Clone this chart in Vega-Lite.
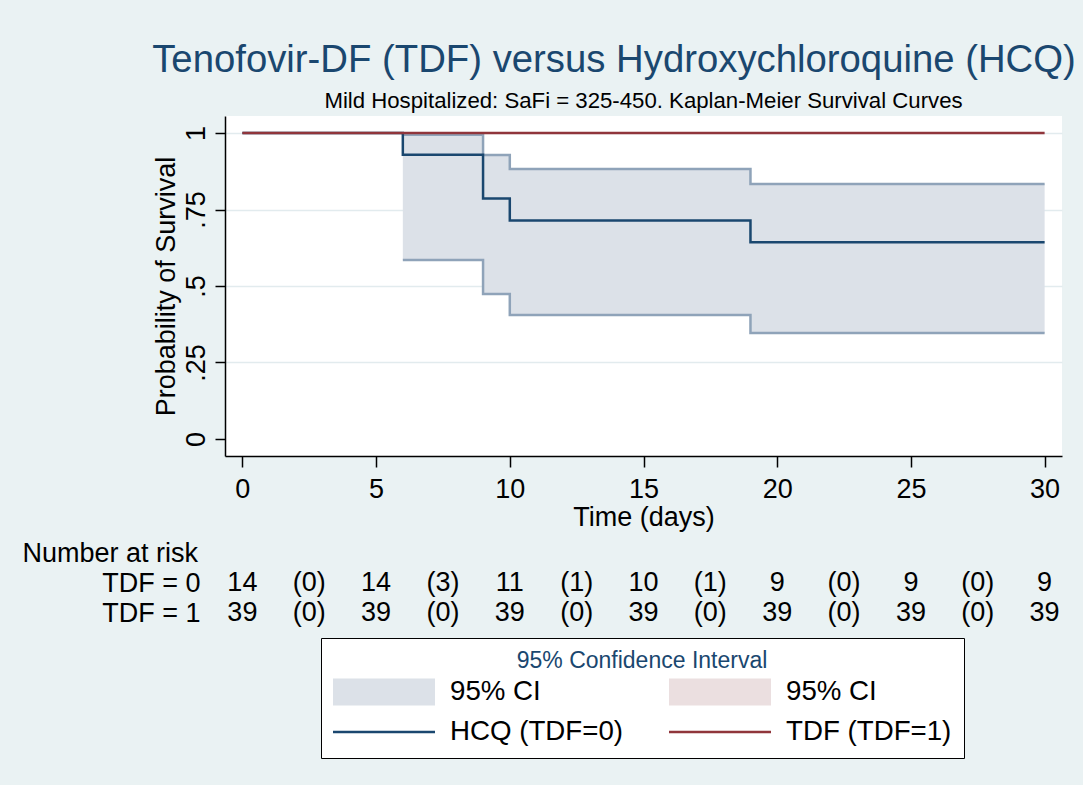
{
  "$schema": "https://vega.github.io/schema/vega-lite/v6.json",
  "background": "#EAF2F3",
  "padding": {"left": 22, "top": 40, "right": 8, "bottom": 26},
  "config": {
    "font": "Liberation Sans",
    "view": {"stroke": null},
    "axis": {"labelFont": "Liberation Sans", "titleFont": "Liberation Sans", "labelColor": "black", "titleColor": "black", "titleFontWeight": "normal", "domainColor": "black", "tickColor": "black"},
    "legend": {
      "titleFontSize": 23, "titleColor": "#1A476F", "titleFont": "Liberation Sans", "titleFontWeight": "normal", "titleAnchor": "middle", "titlePadding": 5, "titleLimit": 800,
      "columns": 2, "columnPadding": 45, "rowPadding": 12, "clipHeight": 28,
      "symbolSize": 10404, "symbolStrokeWidth": 0, "symbolOpacity": 1,
      "labelFontSize": 27.7, "labelFont": "Liberation Sans", "labelColor": "black", "labelOffset": 15, "labelLimit": 800,
      "padding": 12, "strokeColor": "black", "fillColor": "white", "cornerRadius": 0
    }
  },
  "title": {"text": "Tenofovir-DF (TDF) versus Hydroxychloroquine (HCQ)", "fontSize": 38.3, "color": "#1A476F", "font": "Liberation Sans", "fontWeight": "normal", "anchor": "middle", "dx": 72, "offset": 10},
  "bounds": "flush",
  "spacing": 112,
  "datasets": {
    "km": [
      {"series": "hcq", "time": 0, "surv": 1},
      {"series": "hcq", "time": 6, "surv": 0.929},
      {"series": "hcq", "time": 9, "surv": 0.786},
      {"series": "hcq", "time": 10, "surv": 0.714},
      {"series": "hcq", "time": 19, "surv": 0.643},
      {"series": "hcq", "time": 30, "surv": 0.643},
      {"series": "tdf", "time": 0, "surv": 1},
      {"series": "tdf", "time": 30, "surv": 1}
    ],
    "ci": [
      {"series": "ci0", "time": 6, "lo": 0.585, "hi": 0.994},
      {"series": "ci0", "time": 9, "lo": 0.474, "hi": 0.928},
      {"series": "ci0", "time": 10, "lo": 0.405, "hi": 0.882},
      {"series": "ci0", "time": 19, "lo": 0.346, "hi": 0.833},
      {"series": "ci0", "time": 30, "lo": 0.346, "hi": 0.833}
    ],
    "risk": [
      {"group": "TDF = 0", "time": 0, "label": "14"},
      {"group": "TDF = 0", "time": 2.5, "label": "(0)"},
      {"group": "TDF = 0", "time": 5, "label": "14"},
      {"group": "TDF = 0", "time": 7.5, "label": "(3)"},
      {"group": "TDF = 0", "time": 10, "label": "11"},
      {"group": "TDF = 0", "time": 12.5, "label": "(1)"},
      {"group": "TDF = 0", "time": 15, "label": "10"},
      {"group": "TDF = 0", "time": 17.5, "label": "(1)"},
      {"group": "TDF = 0", "time": 20, "label": "9"},
      {"group": "TDF = 0", "time": 22.5, "label": "(0)"},
      {"group": "TDF = 0", "time": 25, "label": "9"},
      {"group": "TDF = 0", "time": 27.5, "label": "(0)"},
      {"group": "TDF = 0", "time": 30, "label": "9"},
      {"group": "TDF = 1", "time": 0, "label": "39"},
      {"group": "TDF = 1", "time": 2.5, "label": "(0)"},
      {"group": "TDF = 1", "time": 5, "label": "39"},
      {"group": "TDF = 1", "time": 7.5, "label": "(0)"},
      {"group": "TDF = 1", "time": 10, "label": "39"},
      {"group": "TDF = 1", "time": 12.5, "label": "(0)"},
      {"group": "TDF = 1", "time": 15, "label": "39"},
      {"group": "TDF = 1", "time": 17.5, "label": "(0)"},
      {"group": "TDF = 1", "time": 20, "label": "39"},
      {"group": "TDF = 1", "time": 22.5, "label": "(0)"},
      {"group": "TDF = 1", "time": 25, "label": "39"},
      {"group": "TDF = 1", "time": 27.5, "label": "(0)"},
      {"group": "TDF = 1", "time": 30, "label": "39"}
    ]
  },
  "vconcat": [
    {
      "width": 837,
      "height": 340,
      "view": {"fill": "white", "stroke": null},
      "title": {"text": "Mild Hospitalized: SaFi = 325-450. Kaplan-Meier Survival Curves", "fontSize": 22.2, "fontWeight": "normal", "color": "black", "font": "Liberation Sans", "anchor": "middle", "offset": 4},
      "layer": [
        {
          "data": {"name": "ci"},
          "mark": {"type": "area", "interpolate": "step-after", "opacity": 1},
          "encoding": {
            "x": {"field": "time", "type": "quantitative",
              "scale": {"domain": [-0.65, 30.65], "nice": false, "zero": false},
              "axis": {"values": [0, 5, 10, 15, 20, 25, 30], "title": "Time (days)", "titleFontSize": 27, "labelFontSize": 27, "tickSize": 11, "tickWidth": 1.5, "domainWidth": 1.5, "labelPadding": 9, "titlePadding": 2, "grid": false, "labelFlush": false}},
            "y": {"field": "lo", "type": "quantitative",
              "scale": {"domain": [-0.0556, 1.0556], "nice": false, "zero": false},
              "axis": {"values": [0, 0.25, 0.5, 0.75, 1], "title": "Probability of Survival", "titleFontSize": 27, "labelFontSize": 27, "labelAngle": -90, "tickSize": 10, "tickWidth": 1.5, "domainWidth": 1.5, "labelPadding": 5, "titlePadding": 2, "labelFlush": false,
                "labelExpr": "datum.value == 0.25 ? '.25' : datum.value == 0.5 ? '.5' : datum.value == 0.75 ? '.75' : datum.value == 1 ? '1' : '0'",
                "grid": true, "gridWidth": 1.5,
                "gridColor": {"condition": {"test": "datum.value === 0", "value": "transparent"}, "value": "#E2EBEE"}}},
            "y2": {"field": "hi"},
            "color": {"field": "series", "type": "nominal",
              "scale": {"domain": ["ci0", "hcq", "ci1", "tdf"], "range": ["#DCE1E8", "#1A476F", "#EBDFE0", "#90353B"]},
              "legend": {"title": "95% Confidence Interval", "orient": "none", "legendX": 96, "legendY": 522,
                "labelExpr": "datum.value == 'hcq' ? 'HCQ (TDF=0)' : datum.value == 'tdf' ? 'TDF (TDF=1)' : '95% CI'"}}
          }
        },
        {
          "data": {"name": "ci"},
          "mark": {"type": "line", "interpolate": "step-after", "color": "#8FA3B9", "strokeWidth": 2.5},
          "encoding": {"x": {"field": "time", "type": "quantitative"}, "y": {"field": "lo", "type": "quantitative"}}
        },
        {
          "data": {"name": "ci"},
          "mark": {"type": "line", "interpolate": "step-after", "color": "#8FA3B9", "strokeWidth": 2.5},
          "encoding": {"x": {"field": "time", "type": "quantitative"}, "y": {"field": "hi", "type": "quantitative"}}
        },
        {
          "data": {"name": "km"},
          "mark": {"type": "line", "interpolate": "step-after", "strokeWidth": 2.5},
          "encoding": {"x": {"field": "time", "type": "quantitative"}, "y": {"field": "surv", "type": "quantitative"},
            "color": {"field": "series", "type": "nominal",
              "legend": {"title": "95% Confidence Interval", "orient": "none", "legendX": 96, "legendY": 522,
                "labelExpr": "datum.value == 'hcq' ? 'HCQ (TDF=0)' : datum.value == 'tdf' ? 'TDF (TDF=1)' : '95% CI'"}}}
        },
        {
          "data": {"name": "km"},
          "mark": {"type": "point", "filled": true, "opacity": 0},
          "encoding": {"x": {"field": "time", "type": "quantitative"}, "y": {"field": "surv", "type": "quantitative"},
            "color": {"field": "series", "type": "nominal",
              "legend": {"title": "95% Confidence Interval", "orient": "none", "legendX": 96, "legendY": 522,
                "labelExpr": "datum.value == 'hcq' ? 'HCQ (TDF=0)' : datum.value == 'tdf' ? 'TDF (TDF=1)' : '95% CI'"}},
            "shape": {"field": "series", "type": "nominal",
              "scale": {"domain": ["ci0", "hcq", "ci1", "tdf"], "range": ["M-1,-0.265H1V0.265H-1Z", "M-1,-0.025H1V0.025H-1Z", "M-1,-0.265H1V0.265H-1Z", "M-1,-0.025H1V0.025H-1Z"]},
              "legend": {"title": "95% Confidence Interval", "orient": "none", "legendX": 96, "legendY": 522,
                "labelExpr": "datum.value == 'hcq' ? 'HCQ (TDF=0)' : datum.value == 'tdf' ? 'TDF (TDF=1)' : '95% CI'"}}}
        }
      ]
    },
    {
      "width": 837,
      "height": 60,
      "data": {"name": "risk"},
      "mark": {"type": "text", "fontSize": 27, "font": "Liberation Sans", "color": "black", "baseline": "middle", "align": "center"},
      "encoding": {
        "x": {"field": "time", "type": "quantitative", "scale": {"domain": [-0.65, 30.65], "nice": false, "zero": false}, "axis": null},
        "y": {"field": "group", "type": "nominal", "axis": {"title": "Number at risk", "titleAngle": 0, "titleAlign": "left", "titleBaseline": "middle", "titleX": -203, "titleY": -15, "titleFontSize": 27, "labelFontSize": 27, "domain": false, "ticks": false, "labelPadding": 25, "grid": false}},
        "text": {"field": "label"}
      }
    }
  ]
}
